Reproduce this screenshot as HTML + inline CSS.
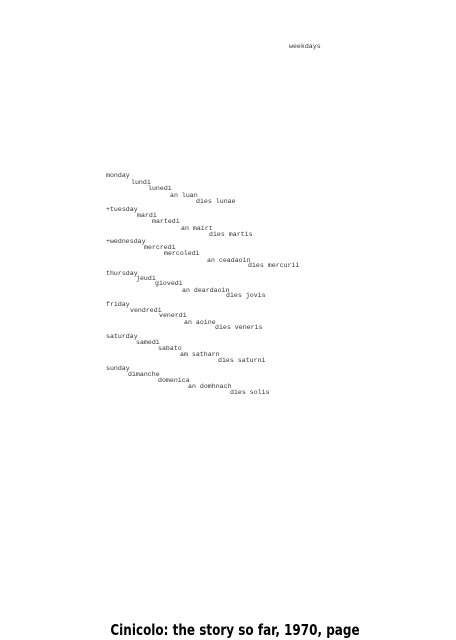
<!DOCTYPE html>
<html><head><meta charset="utf-8"><style>
html,body{margin:0;padding:0;background:#fff;}
body{width:456px;height:640px;position:relative;overflow:hidden;}
.t{position:absolute;font-family:"Liberation Mono",monospace;font-size:6.6px;color:#333;white-space:pre;line-height:8px;}
.cap{position:absolute;left:0;width:470px;top:621px;text-align:center;font-family:"DejaVu Sans","Liberation Sans",sans-serif;font-weight:bold;font-size:12px;color:#000;transform:scaleY(1.25);transform-origin:center top;}
</style></head><body>
<div class="t" style="left:289px;top:43px">weekdays</div>
<div class="t" style="left:106px;top:172px">monday</div>
<div class="t" style="left:131px;top:179px">lundi</div>
<div class="t" style="left:148px;top:185px">lunedi</div>
<div class="t" style="left:170px;top:192px">an luan</div>
<div class="t" style="left:196px;top:198px">dies lunae</div>
<div class="t" style="left:106px;top:206px">+tuesday</div>
<div class="t" style="left:137px;top:212px">mardi</div>
<div class="t" style="left:152px;top:218px">martedi</div>
<div class="t" style="left:181px;top:225px">an mairt</div>
<div class="t" style="left:209px;top:231px">dies martis</div>
<div class="t" style="left:106px;top:238px">+wednesday</div>
<div class="t" style="left:144px;top:244px">mercredi</div>
<div class="t" style="left:164px;top:250px">mercoledi</div>
<div class="t" style="left:207px;top:257px">an ceadaoin</div>
<div class="t" style="left:248px;top:262px">dies mercurii</div>
<div class="t" style="left:106px;top:270px">thursday</div>
<div class="t" style="left:136px;top:275px">jeudi</div>
<div class="t" style="left:155px;top:280px">giovedi</div>
<div class="t" style="left:182px;top:287px">an deardaoin</div>
<div class="t" style="left:226px;top:292px">dies jovis</div>
<div class="t" style="left:106px;top:301px">friday</div>
<div class="t" style="left:130px;top:307px">vendredi</div>
<div class="t" style="left:159px;top:312px">venerdi</div>
<div class="t" style="left:184px;top:319px">an aoine</div>
<div class="t" style="left:215px;top:324px">dies veneris</div>
<div class="t" style="left:106px;top:333px">saturday</div>
<div class="t" style="left:136px;top:339px">samedi</div>
<div class="t" style="left:158px;top:345px">sabato</div>
<div class="t" style="left:180px;top:351px">am satharn</div>
<div class="t" style="left:218px;top:357px">dies saturni</div>
<div class="t" style="left:106px;top:365px">sunday</div>
<div class="t" style="left:128px;top:371px">dimanche</div>
<div class="t" style="left:158px;top:377px">domenica</div>
<div class="t" style="left:188px;top:383px">an domhnach</div>
<div class="t" style="left:230px;top:389px">dies solis</div>
<div class="cap">Cinicolo: the story so far, 1970, page</div>
</body></html>
